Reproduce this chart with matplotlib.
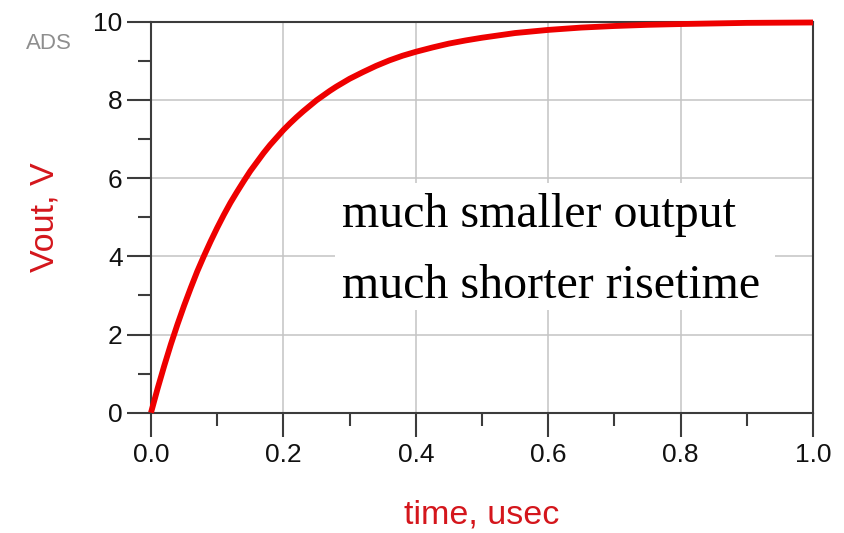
import matplotlib.pyplot as plt
from matplotlib.ticker import MultipleLocator

# step response of the output node, read at these time points (usec)
time_us = [0.0, 0.01, 0.02, 0.03, 0.04, 0.05, 0.06, 0.07, 0.08, 0.09,
           0.10, 0.11, 0.12, 0.13, 0.14, 0.15, 0.16, 0.17, 0.18, 0.19,
           0.20, 0.21, 0.22, 0.23, 0.24, 0.25, 0.26, 0.27, 0.28, 0.29,
           0.30, 0.32, 0.34, 0.36, 0.38, 0.40, 0.425, 0.45, 0.475,
           0.50, 0.55, 0.60, 0.65, 0.70, 0.75, 0.80, 0.90, 1.00]
vout = [0.0, 0.62, 1.20, 1.75, 2.26, 2.74, 3.19, 3.62, 4.01, 4.38,
        4.73, 5.06, 5.37, 5.65, 5.92, 6.18, 6.41, 6.64, 6.85, 7.04,
        7.23, 7.40, 7.56, 7.71, 7.85, 7.99, 8.11, 8.23, 8.34, 8.44,
        8.54, 8.71, 8.87, 9.01, 9.13, 9.23, 9.34, 9.44, 9.52,
        9.59, 9.71, 9.79, 9.85, 9.89, 9.92, 9.94, 9.97, 9.98]

x_ticks = [0.0, 0.2, 0.4, 0.6, 0.8, 1.0]
y_ticks = [0, 2, 4, 6, 8, 10]
note_lines = ["much smaller output", "much shorter risetime"]

W, H = 844, 533
fig = plt.figure(figsize=(W / 100, H / 100), dpi=100)
ax = fig.add_axes([151 / W, 1 - 412.7 / H, 662 / W, 391 / H])

spine_c = "#3c3c3c"
red_lbl = "#d4161c"

ax.plot(time_us, vout, color="#ee0000", lw=4.2, solid_capstyle="butt",
        solid_joinstyle="round", clip_on=False, zorder=5)

ax.set_xlim(0, 1.0)
ax.set_ylim(0, 10)
ax.set_xticks(x_ticks)
ax.set_xticklabels([f"{v:.1f}" for v in x_ticks])
ax.set_yticks(y_ticks)
ax.xaxis.set_minor_locator(MultipleLocator(0.1))
ax.yaxis.set_minor_locator(MultipleLocator(1))

ax.grid(True, which="major", color="#c4c4c4", lw=1.1, zorder=0)
ax.set_axisbelow(True)

for s in ax.spines.values():
    s.set_color(spine_c)
    s.set_linewidth(1.5)

ax.tick_params(which="major", direction="out", length=17.5, width=1.5,
               color=spine_c, labelsize=19, pad=4, labelcolor="#111111")
ax.tick_params(which="minor", direction="out", length=9.5, width=1.5,
               color=spine_c)
ax.tick_params(axis="y", which="major", pad=3)
for lbl in ax.get_xticklabels() + ax.get_yticklabels():
    lbl.set_family("Liberation Sans")

# white box behind the note hides the grid
ax.axvspan(0.278, 0.943, ymin=0.263, ymax=0.587, facecolor="white",
           edgecolor="none", zorder=1)
ax.text(0.289, 4.75, note_lines[0], family="Liberation Serif", fontsize=34.5,
        color="black", va="baseline", zorder=3)
ax.text(0.289, 2.93, note_lines[1], family="Liberation Serif", fontsize=34.5,
        color="black", va="baseline", zorder=3)

fig.text(45 / W, 1 - 217 / H, "Vout, V", rotation=90, ha="center",
         va="center", color=red_lbl, fontsize=24.5, family="Liberation Sans")
fig.text(482 / W, 1 - 515 / H, "time, usec", ha="center", va="center",
         color=red_lbl, fontsize=24.5, family="Liberation Sans")
fig.text(49 / W, 1 - 43 / H, "ADS", ha="center", va="center",
         color="#8e8e8e", fontsize=16, family="Liberation Sans")

fig.savefig("out.png", dpi=100, facecolor="white")
